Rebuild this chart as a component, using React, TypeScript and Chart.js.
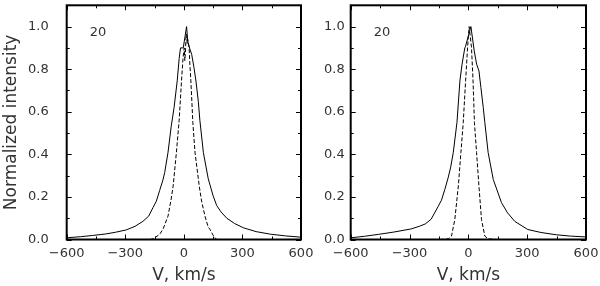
import React, { useEffect, useRef } from "react";
import { Chart, registerables } from "chart.js";
Chart.register(...registerables);

// ---- data (velocity km/s, normalized intensity) ----
const leftBroadV = [-600, -530, -467, -400, -350, -295, -250, -210, -180, -158, -141, -124, -107, -98, -81, -65, -50, -34, -24, -17, -3, 14, 20, 31, 40, 52, 62, 74, 82, 100, 125, 150, 168, 190, 220, 260, 305, 370, 443, 520, 600];
const leftBroadI = [0.008, 0.013, 0.019, 0.026, 0.034, 0.045, 0.062, 0.085, 0.11, 0.15, 0.18, 0.23, 0.28, 0.315, 0.41, 0.53, 0.62, 0.745, 0.85, 0.9, 0.9, 1.0, 0.93, 0.894, 0.87, 0.807, 0.744, 0.649, 0.56, 0.408, 0.285, 0.205, 0.16, 0.13, 0.1, 0.075, 0.055, 0.037, 0.025, 0.017, 0.011];

const leftNarrowV = [-175, -158, -124, -106, -81, -65, -55, -38, -24, -12, -4, 2, 5, 8, 11, 14, 17, 20, 27, 31, 36, 46, 57, 79, 91, 108, 124, 134, 150, 168];
const leftNarrowI = [0, 0.003, 0.024, 0.05, 0.11, 0.19, 0.25, 0.41, 0.56, 0.745, 0.855, 0.9, 0.84, 0.88, 0.95, 0.965, 0.92, 0.94, 0.9, 0.82, 0.745, 0.55, 0.41, 0.25, 0.18, 0.11, 0.06, 0.047, 0.02, 0];

const rightBroadV = [-600, -530, -459, -380, -290, -250, -220, -190, -154, -137, -120, -103, -90, -77, -58, -43, -32, -18, -15, 13, 30, 42, 54, 64, 76, 84, 101, 127, 169, 200, 237, 303, 370, 450, 520, 600];
const rightBroadI = [0.008, 0.015, 0.024, 0.035, 0.05, 0.062, 0.073, 0.095, 0.155, 0.185, 0.235, 0.29, 0.34, 0.408, 0.55, 0.745, 0.824, 0.9, 0.905, 1.0, 0.886, 0.824, 0.792, 0.714, 0.62, 0.55, 0.408, 0.282, 0.173, 0.125, 0.085, 0.047, 0.033, 0.022, 0.016, 0.012];

const rightNarrowV = [-145, -103, -86, -69, -51, -38, -26, -14, -4, 4, 16, 24, 31, 42, 54, 67, 84, 101, 145];
const rightNarrowI = [0, 0.003, 0.016, 0.094, 0.251, 0.408, 0.55, 0.745, 0.902, 1.0, 0.902, 0.745, 0.55, 0.408, 0.251, 0.094, 0.016, 0.003, 0];

// ---- axes ----
const xMajorTicks = [-600, -300, 0, 300, 600];
const xMinorTicks = [-450, -150, 150, 450];
const yMajorTicks = [0, 0.2, 0.4, 0.6, 0.8, 1.0];
const yMinorTicks = [0.1, 0.3, 0.5, 0.7, 0.9];
const xRange = [-600, 600];
const yRange = [0, 1.1];
const panelLabel = "20";
const panelLabelV = -440;
const panelLabelI = 0.97;
const xTitle = "V, km/s";
const yTitle = "Normalized intensity";

const FONT = "'DejaVu Sans', sans-serif";
const TEXT = "#333";

const toPts = (v: number[], i: number[]) => v.map((x, k) => ({ x, y: i[k] }));

const framePlugin = {
  id: "frame",
  afterDatasetsDraw(chart: any) {
    const { ctx, chartArea: a, scales } = chart;
    const x = scales.x;
    const y = scales.y;
    ctx.save();
    ctx.strokeStyle = "#000";
    ctx.lineWidth = 1;
    ctx.beginPath();
    const xt = (vals: number[], len: number) => {
      vals.forEach((v) => {
        const p = Math.round(x.getPixelForValue(v)) + 0.5;
        ctx.moveTo(p, a.bottom);
        ctx.lineTo(p, a.bottom - len);
        ctx.moveTo(p, a.top);
        ctx.lineTo(p, a.top + len);
      });
    };
    const yt = (vals: number[], len: number) => {
      vals.forEach((v) => {
        const p = Math.round(y.getPixelForValue(v)) + 0.5;
        ctx.moveTo(a.left, p);
        ctx.lineTo(a.left + len, p);
        ctx.moveTo(a.right, p);
        ctx.lineTo(a.right - len, p);
      });
    };
    xt(xMajorTicks, 5);
    xt(xMinorTicks, 3);
    yt(yMajorTicks, 5);
    yt(yMinorTicks, 3);
    ctx.stroke();
    ctx.lineWidth = 2;
    ctx.strokeRect(a.left, a.top, a.right - a.left, a.bottom - a.top);
    ctx.font = `13px ${FONT}`;
    ctx.fillStyle = TEXT;
    ctx.textAlign = "center";
    ctx.textBaseline = "middle";
    ctx.fillText(panelLabel, x.getPixelForValue(panelLabelV), y.getPixelForValue(panelLabelI));
    ctx.restore();
  },
};

type PanelProps = {
  left: number;
  width: number;
  yWidth: number;
  padRight: number;
  tickPad: number;
  showYTitle: boolean;
  broadV: number[];
  broadI: number[];
  narrowV: number[];
  narrowI: number[];
};

function Panel(p: PanelProps) {
  const ref = useRef<HTMLCanvasElement>(null);
  useEffect(() => {
    if (!ref.current) return;
    const zeroPad = (s: any) => {
      s.paddingTop = 0;
      s.paddingBottom = 0;
      s.paddingLeft = 0;
      s.paddingRight = 0;
    };
    const chart = new Chart(ref.current, {
      type: "scatter",
      data: {
        datasets: [
          {
            data: toPts(p.broadV, p.broadI),
            showLine: true,
            borderColor: "#000",
            borderWidth: 1,
            pointRadius: 0,
            tension: 0,
          },
          {
            data: toPts(p.narrowV, p.narrowI),
            showLine: true,
            borderColor: "#000",
            borderWidth: 1,
            borderDash: [4, 2],
            pointRadius: 0,
            tension: 0,
          },
        ],
      },
      options: {
        animation: false,
        responsive: false,
        devicePixelRatio: 1,
        layout: { padding: { top: 5.3, right: p.padRight, bottom: 0, left: 0 } },
        plugins: { legend: { display: false }, tooltip: { enabled: false } },
        scales: {
          x: {
            type: "linear",
            min: xRange[0],
            max: xRange[1],
            grid: { display: false, drawTicks: false },
            border: { display: false },
            afterBuildTicks: (s: any) => {
              s.ticks = xMajorTicks.map((value) => ({ value }));
            },
            afterFit: (s: any) => {
              s.height = 46.5;
              zeroPad(s);
            },
            ticks: {
              padding: 6,
              maxRotation: 0,
              autoSkip: false,
              color: TEXT,
              font: { family: FONT, size: 13 },
              callback: (v: any) => (v < 0 ? "\u2212" + Math.abs(v) : String(v)),
            },
            title: {
              display: true,
              text: xTitle,
              color: TEXT,
              font: { family: FONT, size: 17, lineHeight: 1.2 },
              padding: { top: 0, bottom: 0 },
            },
          },
          y: {
            type: "linear",
            min: yRange[0],
            max: yRange[1],
            grid: { display: false, drawTicks: false },
            border: { display: false },
            afterBuildTicks: (s: any) => {
              s.ticks = yMajorTicks.map((value) => ({ value }));
            },
            afterFit: (s: any) => {
              s.width = p.yWidth;
              zeroPad(s);
            },
            ticks: {
              padding: p.tickPad,
              color: TEXT,
              font: { family: FONT, size: 13 },
              callback: (v: any) => Number(v).toFixed(1),
            },
            title: {
              display: p.showYTitle,
              text: yTitle,
              color: TEXT,
              font: { family: FONT, size: 17, lineHeight: 1.2 },
              padding: { top: 1, bottom: 0 },
            },
          },
        },
      },
      plugins: [framePlugin],
    } as any);
    return () => chart.destroy();
  }, []);
  return (
    <canvas
      ref={ref}
      width={p.width}
      height={286}
      style={{ position: "absolute", left: p.left, top: 0, width: p.width, height: 286 }}
    />
  );
}

export default function App() {
  return (
    <div style={{ position: "absolute", left: 0, top: 0, width: 600, height: 286, background: "#fff" }}>
      <Panel left={0} width={320} yWidth={66.7} padRight={19} tickPad={18} showYTitle={true}
        broadV={leftBroadV} broadI={leftBroadI} narrowV={leftNarrowV} narrowI={leftNarrowI} />
      <Panel left={300} width={300} yWidth={50.7} padRight={14} tickPad={6} showYTitle={false}
        broadV={rightBroadV} broadI={rightBroadI} narrowV={rightNarrowV} narrowI={rightNarrowI} />
    </div>
  );
}
